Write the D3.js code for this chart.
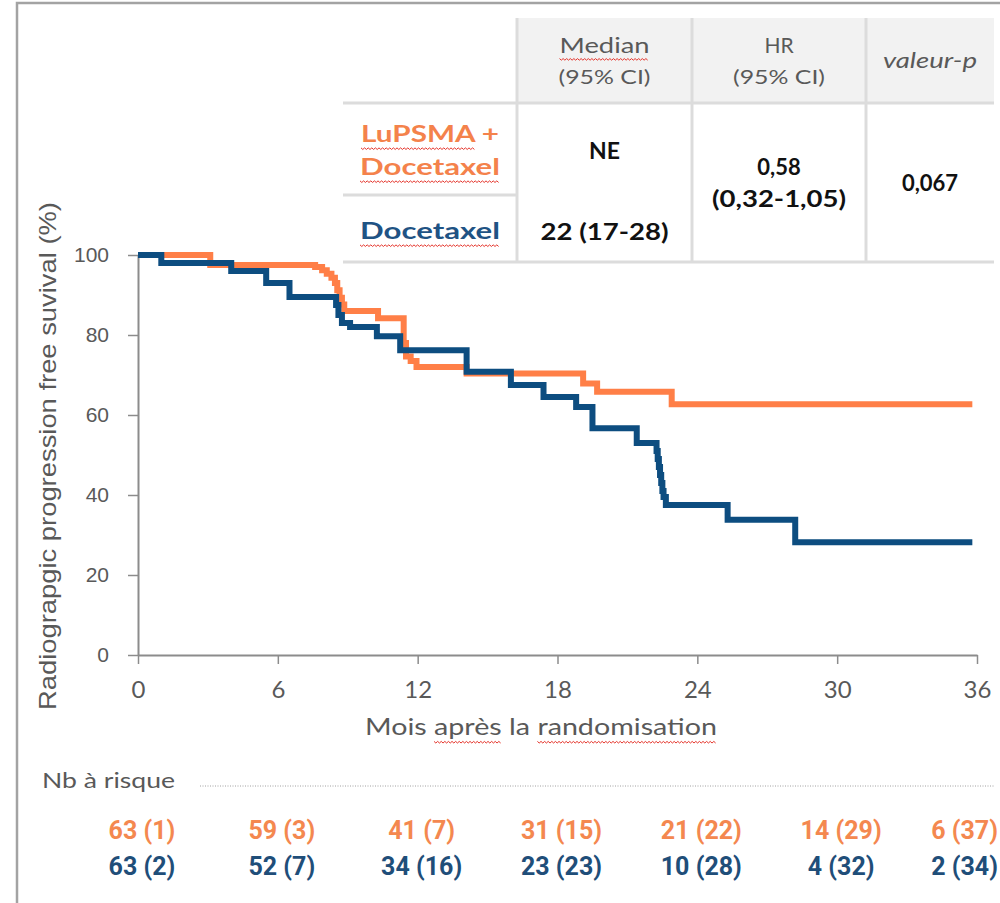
<!DOCTYPE html>
<html>
<head>
<meta charset="utf-8">
<script src="https://cdn.jsdelivr.net/npm/d3@7"></script>
<style>
  body { margin: 0; background: #fff; }
  svg { display: block; }
</style>
</head>
<body>
<svg id="chart"></svg>
<script>
// Kaplan-Meier steps: month, % free of progression
var monthsLu   = [0, 3.1, 7.6, 7.9, 8.1, 8.3, 8.45, 8.55, 8.65, 8.75, 8.85, 10.3, 11.4, 11.5, 11.7, 11.95, 14.1, 19.1, 19.7, 22.9, 35.8];
var survivalLu = [100, 97.5, 97, 96.2, 95.3, 94.3, 93, 91.2, 89.3, 87.6, 86, 84.2, 78, 74.6, 73.5, 72, 70.4, 67.9, 65.8, 62.7, 62.7];

var monthsDoc   = [0, 1.0, 4.0, 5.5, 6.5, 8.5, 8.6, 8.75, 9.1, 10.25, 11.25, 14.1, 16.0, 17.4, 18.8, 19.5, 21.4, 22.25, 22.3, 22.35, 22.4, 22.45, 22.5, 22.55, 22.65, 25.3, 28.2, 35.8];
var survivalDoc = [100, 98, 96, 93, 89.5, 87.5, 85, 83, 82, 79.7, 76.2, 70.8, 67.5, 64.5, 62, 56.7, 53, 51, 49, 47, 45, 43, 41, 39.5, 37.5, 33.8, 28.2, 28.2];

var xTicks = [0, 6, 12, 18, 24, 30, 36];
var yTicks = [0, 20, 40, 60, 80, 100];

// number at risk (events) under each x tick
var riskLu  = ["63 (1)", "59 (3)", "41 (7)", "31 (15)", "21 (22)", "14 (29)", "6 (37)"];
var riskDoc = ["63 (2)", "52 (7)", "34 (16)", "23 (23)", "10 (28)", "4 (32)", "2 (34)"];

// summary table
var headMedian = ["Median", "(95% CI)"];
var headHR     = ["HR", "(95% CI)"];
var headP      = "valeur-p";
var armLu      = ["LuPSMA +", "Docetaxel"];
var armDoc     = "Docetaxel";
var medians    = ["NE", "22 (17-28)"];
var hrValue    = ["0,58", "(0,32-1,05)"];
var pValue     = "0,067";

var orange = "#FF7F47";
var blue = "#0D4D80";
var grey = "#595959";
var gothic = "Lato, 'Open Sans', sans-serif";
var arial = "'Liberation Sans', Arial, sans-serif";

var width = 1000, height = 903;
var svg = d3.select("#chart").attr("width", width).attr("height", height);

// frame of the slide box
svg.append("path")
  .attr("d", "M17," + height + "V3H" + width)
  .attr("fill", "none")
  .attr("stroke", "#a3a3a3")
  .attr("stroke-width", 2.5);

var xScale = d3.scaleLinear().domain([0, 36]).range([138, 977]);
var yScale = d3.scaleLinear().domain([0, 100]).range([655, 255]);

// red spell-check wave under part of a text
function squiggle(node, from, to){
  var x0 = node.getStartPositionOfChar(from).x;
  var x1 = node.getEndPositionOfChar(to - 1).x;
  var fs = parseFloat(node.getAttribute("font-size"));
  var yb = +node.getAttribute("y") + fs * 0.28;
  var pts = d3.range(x0, x1, 1.8).map(function(x, i){ return [x, yb + (i % 2 ? 1.3 : -0.3)]; });
  d3.select(node.parentNode).append("path")
    .attr("d", d3.line()(pts))
    .attr("fill", "none")
    .attr("stroke", "#e5332a")
    .attr("stroke-width", 1);
}

function addText(g, str, x, y, opts){
  var t = g.append("text")
    .attr("x", x).attr("y", y)
    .attr("text-anchor", opts.anchor || "middle")
    .attr("font-family", opts.font || gothic)
    .attr("font-size", opts.size || 20)
    .attr("font-weight", opts.weight || "normal")
    .attr("font-style", opts.style || "normal")
    .attr("fill", opts.color || grey)
    .text(str);
  if(opts.len) t.attr("textLength", opts.len).attr("lengthAdjust", "spacingAndGlyphs");
  return t;
}

// ---- table ----
var gTable = svg.append("g").attr("id", "table");
var colX = [343, 517, 692, 866, 994];
var rowY = [18, 103, 195, 262];
var lineCol = "#dcdcdc";

gTable.append("rect")
  .attr("x", colX[1]).attr("y", rowY[0])
  .attr("width", colX[4] - colX[1]).attr("height", rowY[1] - rowY[0])
  .attr("fill", "#f2f2f2");

[[colX[0], colX[4], rowY[1]], [colX[0], colX[1], rowY[2]], [colX[0], colX[4], rowY[3]]].forEach(function(l){
  gTable.append("line")
    .attr("x1", l[0]).attr("x2", l[1]).attr("y1", l[2]).attr("y2", l[2])
    .attr("stroke", lineCol).attr("stroke-width", 3);
});
[colX[1], colX[2], colX[3]].forEach(function(x){
  gTable.append("line")
    .attr("x1", x).attr("x2", x).attr("y1", rowY[0]).attr("y2", rowY[3])
    .attr("stroke", lineCol).attr("stroke-width", 3);
});

var cMed = (colX[1] + colX[2]) / 2, cHR = (colX[2] + colX[3]) / 2, cP = (colX[3] + colX[4]) / 2, cArm = (colX[0] + colX[1]) / 2;

var tMed = addText(gTable, headMedian[0], cMed, 53, {size: 21, len: 90});
addText(gTable, headMedian[1], cMed, 84, {size: 20, len: 92});
addText(gTable, headHR[0], cHR, 53, {size: 21});
addText(gTable, headHR[1], cHR, 84, {size: 20, len: 92});
addText(gTable, headP, cP, 68, {size: 21, style: "italic", len: 94});

var tLu1 = addText(gTable, armLu[0], cArm, 142, {size: 22, weight: "bold", color: "#F4824B", len: 138});
var tLu2 = addText(gTable, armLu[1], cArm, 175, {size: 22, weight: "bold", color: "#F4824B", len: 140});
var tDoc = addText(gTable, armDoc, cArm, 239, {size: 22, weight: "bold", color: "#1F5384", len: 140});

addText(gTable, medians[0], cMed, 159, {size: 23, weight: "bold", color: "#111"});
addText(gTable, medians[1], cMed, 240, {size: 22, weight: "bold", color: "#111", len: 128});
addText(gTable, hrValue[0], cHR, 175, {size: 22, weight: "bold", color: "#111"});
addText(gTable, hrValue[1], cHR, 207, {size: 22, weight: "bold", color: "#111", len: 134});
addText(gTable, pValue, cP, 191, {size: 22, weight: "bold", color: "#111"});

squiggle(tMed.node(), 0, headMedian[0].length);
squiggle(tLu1.node(), 0, 6);
squiggle(tLu2.node(), 0, armLu[1].length);
squiggle(tDoc.node(), 0, armDoc.length);

// ---- axes ----
var axisCol = "#8c8c8c";
var gY = svg.append("g").attr("transform", "translate(" + xScale(0) + ",0)")
  .call(d3.axisLeft(yScale).tickValues(yTicks).tickSize(10).tickSizeOuter(0).tickPadding(19));
var gX = svg.append("g").attr("transform", "translate(0," + yScale(0) + ")")
  .call(d3.axisBottom(xScale).tickValues(xTicks).tickSize(9).tickSizeOuter(0).tickPadding(17));

[gY, gX].forEach(function(g){
  g.select(".domain").attr("stroke", axisCol).attr("stroke-width", 2);
  g.selectAll(".tick line").attr("stroke", axisCol).attr("stroke-width", 1.5);
});
gY.selectAll(".tick text").attr("font-family", arial).attr("font-size", 21).attr("fill", grey);
gX.selectAll(".tick text").attr("font-family", gothic).attr("font-size", 24).attr("fill", grey);

addText(svg, "Radiograpgic progression free suvival (%)", 0, 0, {font: arial, size: 24, len: 508})
  .attr("transform", "translate(56,456) rotate(-90)");

var tX = addText(svg, "Mois après la randomisation", 541, 735, {size: 24, len: 352});
squiggle(tX.node(), 5, 10);
squiggle(tX.node(), 14, 27);

// ---- curves ----
var line = d3.line()
  .x(function(d){ return xScale(d[0]); })
  .y(function(d){ return yScale(d[1]); })
  .curve(d3.curveStepAfter);

var gLines = svg.append("g").attr("id", "curves");
gLines.append("path")
  .datum(d3.zip(monthsLu, survivalLu))
  .attr("d", line)
  .attr("fill", "none")
  .attr("stroke", orange)
  .attr("stroke-width", 6);
gLines.append("path")
  .datum(d3.zip(monthsDoc, survivalDoc))
  .attr("d", line)
  .attr("fill", "none")
  .attr("stroke", blue)
  .attr("stroke-width", 6);

// ---- number at risk ----
var gRisk = svg.append("g").attr("id", "at-risk");
addText(gRisk, "Nb à risque", 42, 788, {anchor: "start", size: 22, len: 133});
gRisk.append("line")
  .attr("x1", 200).attr("x2", 995).attr("y1", 786).attr("y2", 786)
  .attr("stroke", "#a0a0a0").attr("stroke-width", 1).attr("stroke-dasharray", "1,1.5");

function riskRow(labels, y, color){
  gRisk.selectAll(null)
    .data(labels)
    .enter()
    .append("text")
      .attr("y", y)
      .attr("text-anchor", "middle")
      .attr("font-family", "Roboto, sans-serif")
      .attr("font-size", 25)
      .attr("font-weight", "bold")
      .attr("fill", color)
      .text(function(d){ return d; })
      .attr("x", function(d, i){
        var cx = xScale(xTicks[i]) + 4;
        var w = this.getComputedTextLength();
        return Math.min(cx, 998 - w / 2);
      });
}
riskRow(riskLu, 839, "#F4884F");
riskRow(riskDoc, 875, "#1F4E79");
</script>
</body>
</html>
